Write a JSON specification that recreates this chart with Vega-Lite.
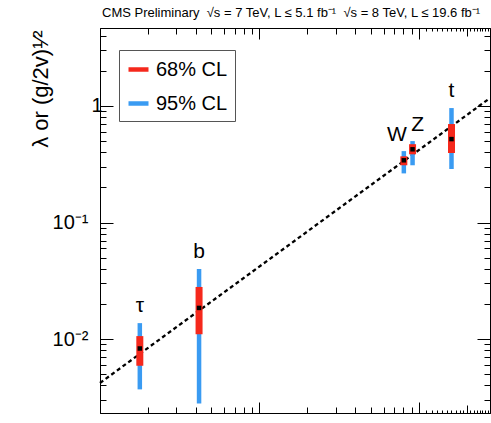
{
  "$schema": "https://vega.github.io/schema/vega-lite/v6.json",
  "width": 390,
  "height": 385,
  "autosize": {"type": "none"},
  "padding": {"left": 100, "top": 28, "right": 1, "bottom": 10},
  "background": "white",
  "title": {
    "text": "CMS Preliminary \u00a0√s = 7 TeV, L ≤ 5.1 fb⁻¹ \u00a0√s = 8 TeV, L ≤ 19.6 fb⁻¹",
    "anchor": "start",
    "frame": "group",
    "fontSize": 13,
    "font": "Liberation Sans",
    "fontWeight": "normal",
    "color": "black",
    "offset": 6,
    "dx": 2
  },
  "datasets": {
    "pts": [
      {"particle": "τ", "mass": 1.777, "lambda": 0.0083, "lo68": 0.0059, "hi68": 0.0106, "lo95": 0.0037, "hi95": 0.0137},
      {"particle": "b", "mass": 4.18, "lambda": 0.0185, "lo68": 0.011, "hi68": 0.028, "lo95": 0.0028, "hi95": 0.040},
      {"particle": "W", "mass": 80.4, "lambda": 0.342, "lo68": 0.31, "hi68": 0.37, "lo95": 0.264, "hi95": 0.41},
      {"particle": "Z", "mass": 91.2, "lambda": 0.425, "lo68": 0.385, "hi68": 0.47, "lo95": 0.31, "hi95": 0.50},
      {"particle": "t", "mass": 160, "lambda": 0.52, "lo68": 0.395, "hi68": 0.70, "lo95": 0.288, "hi95": 0.96}
    ],
    "fit": [
      {"mass": 1, "lambda": 0.0042},
      {"mass": 279, "lambda": 1.17}
    ]
  },
  "layer": [
    {
      "data": {"name": "fit"},
      "mark": {"type": "line", "color": "black", "strokeDash": [4, 3], "strokeWidth": 2.3},
      "encoding": {
        "x": {"field": "mass", "type": "quantitative", "scale": {"type": "log", "domain": [1, 279], "nice": false}, "axis": null},
        "y": {"field": "lambda", "type": "quantitative", "scale": {"type": "log", "domain": [0.00232, 4.67], "nice": false}, "axis": null}
      }
    },
    {
      "data": {"name": "pts"},
      "mark": {"type": "rule", "strokeWidth": 4.5, "strokeCap": "butt"},
      "encoding": {
        "x": {
          "field": "mass", "type": "quantitative",
          "scale": {"type": "log", "domain": [1, 279], "nice": false},
          "axis": {
            "orient": "bottom", "title": null, "labels": false, "grid": false,
            "values": [2,3,4,5,6,7,8,9,10,20,30,40,50,60,70,80,90,100,110,120,130,140,150,160,170,180,190,200,210,220,230,240,250,260,270],
            "tickSize": {"condition": [{"test": "datum.value==10||datum.value==100", "value": -11}, {"test": "datum.value==200", "value": -8}, {"test": "datum.value>100", "value": -3}], "value": -6},
            "tickColor": "black", "domainColor": "black"
          }
        },
        "y": {
          "field": "lo95", "type": "quantitative",
          "scale": {"type": "log", "domain": [0.00232, 4.67], "nice": false},
          "axis": {
            "orient": "left", "grid": false,
            "values": [0.003,0.004,0.005,0.006,0.007,0.008,0.009,0.01,0.02,0.03,0.04,0.05,0.06,0.07,0.08,0.09,0.1,0.2,0.3,0.4,0.5,0.6,0.7,0.8,0.9,1,2,3,4],
            "tickSize": {"condition": {"test": "datum.value==0.01||datum.value==0.1||datum.value==1", "value": -13}, "value": -6},
            "tickColor": "black", "domainColor": "black",
            "labelExpr": "datum.value==1 ? '1' : datum.value==0.1 ? '10⁻¹' : datum.value==0.01 ? '10⁻²' : ''",
            "labelFont": "Liberation Sans", "labelFontSize": 20, "labelColor": "black",
            "labelPadding": {"condition": {"test": "datum.value==1", "value": 11}, "value": 25},
            "labelOverlap": false, "labelFlush": false, "labelBaseline": "middle",
            "title": "λ or (g/2v)¹⁄²",
            "titleFont": "Liberation Sans", "titleFontSize": 22, "titleFontWeight": "normal", "titleColor": "black",
            "titleAngle": -90, "titleAlign": "right", "titleBaseline": "alphabetic",
            "titleX": -53, "titleY": 2
          }
        },
        "y2": {"field": "hi95"},
        "color": {
          "datum": "95% CL",
          "scale": {"domain": ["68% CL", "95% CL"], "range": ["#f5281c", "#3a9bf2"]},
          "legend": {
            "title": null, "orient": "none", "legendX": 19, "legendY": 22,
            "padding": 7, "strokeColor": "#555555", "fillColor": "white",
            "symbolType": "stroke", "symbolSize": 400, "symbolStrokeWidth": 4.5,
            "labelFont": "Liberation Sans", "labelFontSize": 20, "labelColor": "black",
            "labelOffset": 5, "rowPadding": 11,
            "labelExpr": "datum.label + '\u00a0'"
          }
        }
      }
    },
    {
      "data": {"name": "pts"},
      "mark": {"type": "rule", "strokeWidth": 7, "strokeCap": "butt"},
      "encoding": {
        "x": {
          "field": "mass", "type": "quantitative",
          "scale": {"type": "log", "domain": [1, 279], "nice": false},
          "axis": {
            "orient": "top", "title": null, "labels": false, "grid": false,
            "values": [2,3,4,5,6,7,8,9,10,20,30,40,50,60,70,80,90,100,110,120,130,140,150,160,170,180,190,200,210,220,230,240,250,260,270],
            "tickSize": {"condition": [{"test": "datum.value==10||datum.value==100", "value": -11}, {"test": "datum.value==200", "value": -8}, {"test": "datum.value>100", "value": -3}], "value": -6},
            "tickColor": "black", "domainColor": "black"
          }
        },
        "y": {
          "field": "lo68", "type": "quantitative",
          "scale": {"type": "log", "domain": [0.00232, 4.67], "nice": false},
          "axis": {
            "orient": "right", "title": null, "labels": false, "grid": false,
            "values": [0.003,0.004,0.005,0.006,0.007,0.008,0.009,0.01,0.02,0.03,0.04,0.05,0.06,0.07,0.08,0.09,0.1,0.2,0.3,0.4,0.5,0.6,0.7,0.8,0.9,1,2,3,4],
            "tickSize": {"condition": {"test": "datum.value==0.01||datum.value==0.1||datum.value==1", "value": -13}, "value": -6},
            "tickColor": "black", "domainColor": "black"
          }
        },
        "y2": {"field": "hi68"},
        "color": {"datum": "68% CL"}
      }
    },
    {
      "data": {"name": "pts"},
      "mark": {"type": "square", "size": 20, "color": "black", "filled": true, "opacity": 1},
      "encoding": {
        "x": {"field": "mass", "type": "quantitative", "axis": null},
        "y": {"field": "lambda", "type": "quantitative", "axis": null}
      }
    },
    {
      "data": {"name": "pts"},
      "transform": [{"filter": "datum.particle != 'W' && datum.particle != 'Z'"}],
      "mark": {"type": "text", "fontSize": 21, "font": "Liberation Sans", "color": "black", "baseline": "alphabetic", "align": "center", "dy": -11},
      "encoding": {
        "x": {"field": "mass", "type": "quantitative", "axis": null},
        "y": {"field": "hi95", "type": "quantitative", "axis": null},
        "text": {"field": "particle"}
      }
    },
    {
      "data": {"name": "pts"},
      "transform": [{"filter": "datum.particle == 'W'"}],
      "mark": {"type": "text", "fontSize": 21, "font": "Liberation Sans", "color": "black", "baseline": "alphabetic", "align": "center", "dy": -10, "dx": -7},
      "encoding": {
        "x": {"field": "mass", "type": "quantitative", "axis": null},
        "y": {"field": "hi95", "type": "quantitative", "axis": null},
        "text": {"field": "particle"}
      }
    },
    {
      "data": {"name": "pts"},
      "transform": [{"filter": "datum.particle == 'Z'"}],
      "mark": {"type": "text", "fontSize": 21, "font": "Liberation Sans", "color": "black", "baseline": "alphabetic", "align": "center", "dy": -10, "dx": 5},
      "encoding": {
        "x": {"field": "mass", "type": "quantitative", "axis": null},
        "y": {"field": "hi95", "type": "quantitative", "axis": null},
        "text": {"field": "particle"}
      }
    }
  ],
  "resolve": {"axis": {"x": "independent", "y": "independent"}},
  "config": {
    "font": "Liberation Sans",
    "view": {"stroke": "black", "strokeWidth": 1},
    "axis": {"grid": false, "domainWidth": 1, "tickWidth": 1}
  }
}
